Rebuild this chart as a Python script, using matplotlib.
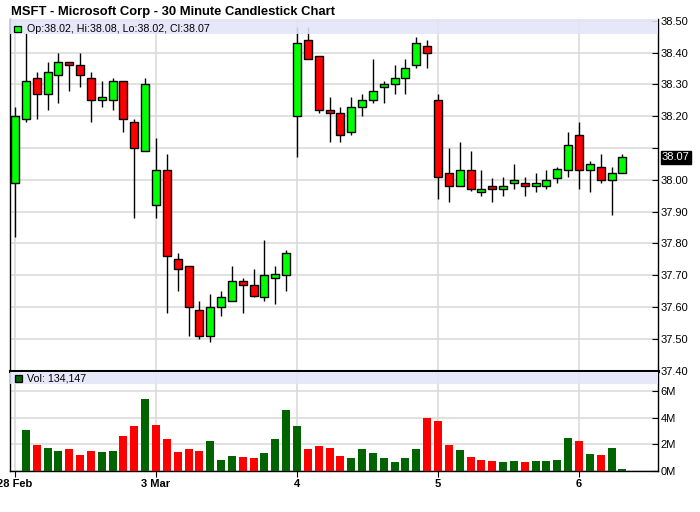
import numpy as np
import matplotlib
matplotlib.use("Agg")
import matplotlib.pyplot as plt
from matplotlib.patches import Rectangle
import matplotlib.transforms as mtransforms

plt.rcParams['font.family'] = ['Liberation Sans', 'DejaVu Sans']

title = "MSFT - Microsoft Corp - 30 Minute Candlestick Chart"
day_labels = ["28 Feb", "3 Mar", "4", "5", "6"]
bars_per_day = 13

opens = [37.99, 38.19, 38.32, 38.27, 38.33, 38.37, 38.36, 38.32, 38.25, 38.25, 38.31, 38.18, 38.09,
         37.92, 38.03, 37.75, 37.73, 37.59, 37.51, 37.60, 37.62, 37.68, 37.67, 37.63, 37.69, 37.70,
         38.20, 38.44, 38.39, 38.22, 38.21, 38.15, 38.23, 38.25, 38.29, 38.30, 38.32, 38.36, 38.42,
         38.25, 38.02, 37.98, 38.03, 37.96, 37.98, 37.97, 37.99, 37.99, 37.98, 37.98, 38.005, 38.03,
         38.14, 38.03, 38.04, 38.00, 38.02]
highs = [38.23, 38.46, 38.34, 38.37, 38.40, 38.37, 38.40, 38.34, 38.31, 38.32, 38.31, 38.19, 38.32,
         38.13, 38.08, 37.77, 37.73, 37.62, 37.64, 37.65, 37.73, 37.69, 37.72, 37.81, 37.73, 37.78,
         38.48, 38.48, 38.39, 38.26, 38.23, 38.26, 38.27, 38.38, 38.31, 38.36, 38.38, 38.45, 38.44,
         38.27, 38.10, 38.12, 38.09, 38.03, 38.005, 38.01, 38.05, 38.01, 38.02, 38.03, 38.04, 38.15,
         38.18, 38.06, 38.08, 38.04, 38.08]
lows = [37.82, 38.18, 38.19, 38.22, 38.24, 38.28, 38.29, 38.18, 38.23, 38.22, 38.15, 37.88, 38.09,
        37.88, 37.58, 37.65, 37.51, 37.50, 37.49, 37.57, 37.62, 37.58, 37.63, 37.62, 37.61, 37.65,
        38.07, 38.38, 38.21, 38.12, 38.12, 38.14, 38.20, 38.24, 38.24, 38.27, 38.27, 38.35, 38.35,
        37.94, 37.93, 37.98, 37.965, 37.95, 37.93, 37.95, 37.97, 37.95, 37.96, 37.97, 37.99, 38.01,
        37.97, 37.96, 37.99, 37.89, 38.02]
closes = [38.20, 38.31, 38.27, 38.34, 38.37, 38.36, 38.33, 38.25, 38.26, 38.31, 38.19, 38.10, 38.30,
          38.03, 37.76, 37.72, 37.60, 37.51, 37.60, 37.63, 37.68, 37.67, 37.634, 37.70, 37.705, 37.77,
          38.43, 38.38, 38.22, 38.21, 38.14, 38.23, 38.25, 38.28, 38.30, 38.32, 38.35, 38.43, 38.40,
          38.01, 37.98, 38.03, 37.97, 37.97, 37.97, 37.98, 38.00, 37.98, 37.99, 38.00, 38.035, 38.11,
          38.03, 38.05, 38.00, 38.02, 38.07]
# volume in millions (first bar has no volume bar drawn)
volumes_m = [np.nan, 3.08, 1.94, 1.72, 1.49, 1.64, 1.19, 1.49, 1.41, 1.49, 2.62, 3.38, 5.42,
             3.45, 2.40, 1.41, 1.64, 1.49, 2.24, 0.81, 1.11, 1.04, 0.96, 1.34, 2.40, 4.59,
             3.38, 1.64, 1.87, 1.72, 1.11, 0.96, 1.64, 1.34, 0.96, 0.66, 0.96, 1.64, 3.98,
             3.76, 1.94, 1.56, 1.04, 0.81, 0.73, 0.66, 0.73, 0.66, 0.73, 0.73, 0.81, 2.47,
             2.24, 1.26, 1.19, 1.72, 0.134147]
price_ticks = [37.40, 37.50, 37.60, 37.70, 37.80, 37.90, 38.00, 38.10, 38.20, 38.30, 38.40, 38.50]
vol_ticks = [0, 2, 4, 6]

W, H = 700, 512
fig = plt.figure(figsize=(W / 100, H / 100), dpi=100)
fig.patch.set_facecolor('white')

def fx(px):
    return px / W

L, R = 10, 658
main_top, main_bot = 19, 370.5
vol_top, vol_bot = 372, 471
ax = fig.add_axes([fx(L), 1 - main_bot / H, fx(R - L), (main_bot - main_top) / H])
axv = fig.add_axes([fx(L), 1 - vol_bot / H, fx(R - L), (vol_bot - vol_top) / H])

n = len(opens)
x = np.arange(n)
px_per_bar = 141 / bars_per_day
xlim = (-5 / px_per_bar, (R - L - 5) / px_per_bar)
day_pos = np.arange(len(day_labels)) * bars_per_day

grid_c = '#d9d9d9'
GREEN = '#00ff00'
RED = '#ff0000'
VGREEN = '#006400'

# ---- main price panel ----
o = np.array(opens); c = np.array(closes); h = np.array(highs); l = np.array(lows)
up = c >= o
ax.vlines(x, l, h, color='black', lw=1.0, zorder=3)
bw = 8 / px_per_bar
ax.bar(x, np.maximum(np.abs(c - o), 0.002), bottom=np.minimum(o, c), width=bw,
       color=np.where(up, GREEN, RED), edgecolor='black', linewidth=1.0, zorder=4)

ax.set_xlim(*xlim)
ylo = 37.40
ax.set_ylim(ylo, ylo + (main_bot - main_top) / 318)
ax.set_yticks(price_ticks)
# the tick label nearest the last-price marker is hidden, as in the original chart
ax.set_yticklabels(["" if abs(t - closes[-1]) < 0.05 else f"{t:.2f}" for t in price_ticks])
ax.yaxis.tick_right()
ax.tick_params(axis='y', direction='in', length=4, width=0.8, pad=2, labelsize=8, colors='black')
ax.set_xticks(day_pos)
ax.tick_params(axis='x', length=0, labelbottom=False)
ax.grid(True, color=grid_c, lw=1.1, zorder=0)
ax.set_axisbelow(True)
ax.spines['top'].set_visible(False)
ax.spines['bottom'].set_linewidth(2.2)
for s in ('left', 'right'):
    ax.spines[s].set_linewidth(1.0)

band_h = 15 / (main_bot - main_top)
ax.add_patch(Rectangle((0, 1 - band_h), 1, band_h, transform=ax.transAxes,
                       facecolor='#e4e4fa', alpha=0.88, edgecolor='none', zorder=5, clip_on=False))
ax.add_patch(Rectangle((fx(14), 1 - 32 / H), 7 / W, 6.5 / H, transform=fig.transFigure,
                       facecolor=GREEN if closes[-1] >= opens[-1] else RED, edgecolor='black', lw=0.9, zorder=6))
fig.text(fx(27), 1 - 32.3 / H,
         f"Op:{opens[-1]:.2f}, Hi:{highs[-1]:.2f}, Lo:{lows[-1]:.2f}, Cl:{closes[-1]:.2f}",
         fontsize=7.7, va='baseline', ha='left', color='black', zorder=7)

# last price label
tr = mtransforms.blended_transform_factory(ax.transAxes, ax.transData)
ax.text(1.0 + 4 / (R - L), closes[-1], f"{closes[-1]:.2f}", transform=tr, fontsize=8,
        color='white', va='center', ha='left',
        bbox=dict(boxstyle='square,pad=0.12', fc='black', ec='black'), zorder=8, clip_on=False)

# ---- volume panel ----
vol = np.array(volumes_m)
prev_close = np.concatenate([[np.nan], c[:-1]])
vcol = np.where(c > prev_close, VGREEN, RED)
axv.bar(x, vol, width=bw, color=vcol, edgecolor='none', zorder=3)
axv.set_xlim(*xlim)
axv.set_ylim(-0.02, (vol_bot - vol_top) / 13.23 - 0.02)
axv.set_yticks(vol_ticks)
axv.set_yticklabels([f"{t}M" for t in vol_ticks])
axv.yaxis.tick_right()
axv.tick_params(axis='y', direction='in', length=4, width=0.8, pad=2, labelsize=8, colors='black')
axv.set_xticks(day_pos)
axv.set_xticklabels(day_labels, fontweight='bold', fontsize=8)
axv.tick_params(axis='x', direction='out', length=4, width=0.8, pad=2, colors='black')
axv.grid(True, color=grid_c, lw=1.1, zorder=0)
axv.set_axisbelow(True)
axv.spines['top'].set_visible(False)
for s in ('left', 'right', 'bottom'):
    axv.spines[s].set_linewidth(1.0)
vband_h = 12 / (vol_bot - vol_top)
axv.add_patch(Rectangle((0, 1 - vband_h), 1, vband_h, transform=axv.transAxes,
                        facecolor='#e4e4fa', alpha=0.88, edgecolor='none', zorder=5))
axv.add_patch(Rectangle((fx(15), 1 - 381.7 / H), 7 / W, 7 / H, transform=fig.transFigure,
                        facecolor=VGREEN, edgecolor='black', lw=0.9, zorder=6))
fig.text(fx(27), 1 - 381.7 / H, f"Vol: {int(round(volumes_m[-1] * 1e6)):,}",
         fontsize=7.7, va='baseline', ha='left', color='black', zorder=7)

fig.text(fx(11), 1 - 15.3 / H, title, fontsize=9.4, fontweight='bold', va='baseline', ha='left')

fig.savefig('out.png', dpi=100, facecolor='white')
